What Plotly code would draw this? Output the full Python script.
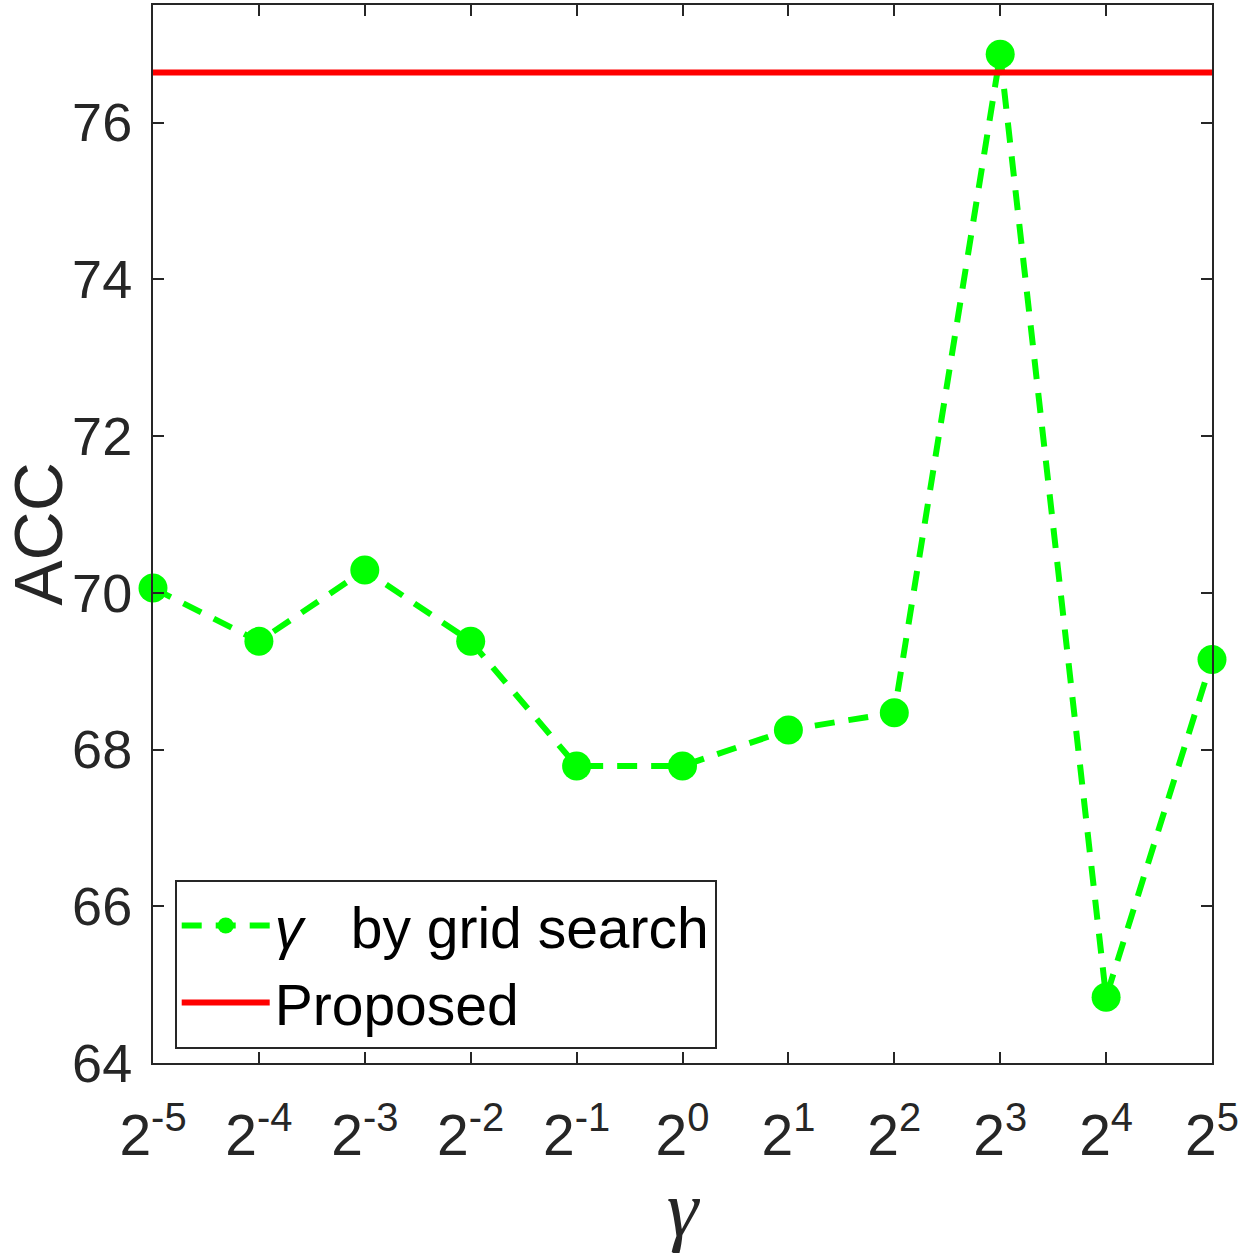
import plotly.graph_objects as go

exponents = [-5, -4, -3, -2, -1, 0, 1, 2, 3, 4, 5]
tick_labels = [f"2<sup>{e}</sup>" for e in exponents]
acc_grid = [70.06, 69.38, 70.29, 69.38, 67.79, 67.79, 68.25, 68.47, 76.87, 64.84, 69.15]
acc_proposed = 76.64

fig = go.Figure()
fig.add_trace(go.Scatter(
    x=exponents, y=acc_grid, mode="lines+markers",
    name="<i>γ</i>   by grid search",
    line=dict(color="#00ff00", width=6, dash="20px,14px"),
    marker=dict(color="#00ff00", size=29),
    cliponaxis=False,
))
fig.add_trace(go.Scatter(
    x=[exponents[0], exponents[-1]], y=[acc_proposed, acc_proposed], mode="lines",
    name="Proposed",
    line=dict(color="#ff0000", width=6),
))

axis_common = dict(
    showline=True, linecolor="#262626", linewidth=2, mirror="ticks",
    ticks="inside", ticklen=11, tickwidth=2, tickcolor="#262626",
    showgrid=False, zeroline=False,
    tickfont=dict(family="Liberation Sans, Arial", size=54, color="#262626"),
)

fig.update_layout(
    width=1242, height=1253,
    margin=dict(l=153, r=27, t=3, b=190),
    plot_bgcolor="white", paper_bgcolor="white",
    showlegend=True,
    legend=dict(
        x=0.0205, y=0.173, xanchor="left", yanchor="top",
        bordercolor="#262626", borderwidth=2, bgcolor="white",
        font=dict(family="Liberation Sans, Arial", size=57, color="black"),
        itemwidth=88, tracegroupgap=0,
    ),
    xaxis=dict(
        axis_common, range=[-5, 5], tickvals=exponents, ticktext=tick_labels,
        ticklabelstandoff=22,
        tickfont=dict(family="Liberation Sans, Arial", size=57, color="#262626"),
        title=dict(text="<i>γ</i>", font=dict(family="Liberation Serif, Times New Roman", size=80, color="#262626"), standoff=14),
    ),
    yaxis=dict(
        axis_common, range=[64, 77.5], tickvals=[64, 66, 68, 70, 72, 74, 76],
        ticklabelstandoff=8,
        title=dict(text="ACC", font=dict(family="Liberation Sans, Arial", size=68, color="#262626"), standoff=8),
    ),
)

fig.write_html("out.html", post_script="document.body.style.margin='0';",
               config={"displayModeBar": False})
